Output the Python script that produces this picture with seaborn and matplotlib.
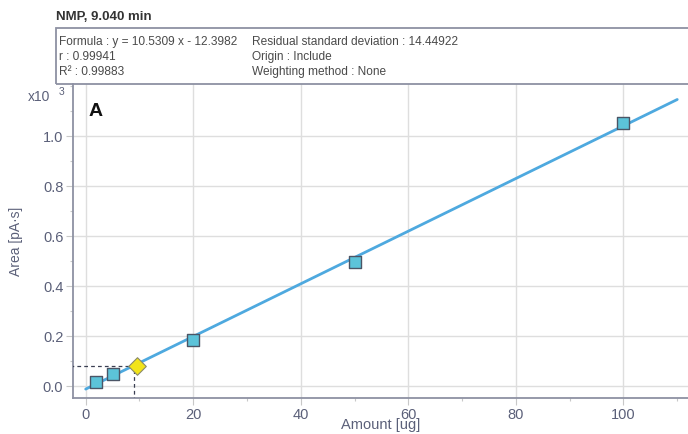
import matplotlib
matplotlib.use("Agg")
import matplotlib.pyplot as plt
from matplotlib.patches import Rectangle
from matplotlib.ticker import MultipleLocator
import seaborn as sns
import pandas as pd

# ---- data (y in units of x10^3) ----
std_amount = [2, 5, 20, 50, 100]
std_area = [0.017, 0.050, 0.183, 0.497, 1.054]
unk_amount = [9.6]
unk_area = [0.0815]
unk_proj_x = 8.9
line_x = [0, 110]
line_y = [-0.0124, 1.146]

title = "NMP, 9.040 min"
info_left = ["Formula : y = 10.5309 x - 12.3982", "r : 0.99941", "R\u00b2 : 0.99883"]
info_right = ["Residual standard deviation : 14.44922", "Origin : Include", "Weighting method : None"]
x_ticks = [0, 20, 40, 60, 80, 100]
y_ticks = [0.0, 0.2, 0.4, 0.6, 0.8, 1.0]

sns.set_style("white")
plt.rcParams["font.family"] = ["Liberation Sans", "DejaVu Sans"]

W, H = 688, 434
fig = plt.figure(figsize=(W / 100, H / 100), dpi=100)
ax = fig.add_axes([73 / W, 1 - 398 / H, (W - 73) / W, (398 - 84) / H])

tick_col = "#5b6079"
spine_col = "#8d91a3"
grid_col = "#dedede"

df_line = pd.DataFrame({"x": line_x, "y": line_y})
df_std = pd.DataFrame({"x": std_amount, "y": std_area})
df_unk = pd.DataFrame({"x": unk_amount, "y": unk_area})

ax.plot([-3, unk_proj_x], [unk_area[0]] * 2, ls=(0, (3, 2.5)), color="#3a3f52", lw=0.9, zorder=3)
ax.plot([unk_proj_x, unk_proj_x], [-0.06, unk_area[0]], ls=(0, (3, 2.5)), color="#3a3f52", lw=0.9, zorder=3)

sns.lineplot(data=df_line, x="x", y="y", ax=ax, color="#4ea9df", lw=2.0, zorder=4)
sns.scatterplot(data=df_std, x="x", y="y", ax=ax, marker="s", s=70, color="#5cc3d9",
                edgecolor="#4b5566", linewidth=1.0, zorder=5)
sns.scatterplot(data=df_unk, x="x", y="y", ax=ax, marker="D", s=80, color="#f2e41a",
                edgecolor="#8a8a6a", linewidth=0.8, zorder=5)

ax.set_xlim(-2.36, 112.0)
ax.set_ylim(-0.048, 1.208)
ax.set_xticks(x_ticks)
ax.set_yticks(y_ticks)
ax.set_yticklabels([f"{v:.1f}" for v in y_ticks])
ax.xaxis.set_minor_locator(MultipleLocator(10))
ax.yaxis.set_minor_locator(MultipleLocator(0.1))
ax.grid(True, which="major", color=grid_col, lw=1.0)
ax.set_axisbelow(True)
ax.tick_params(axis="both", which="major", direction="out", length=5, width=0.8,
               color="#c8c8c8", labelcolor=tick_col, labelsize=10.5, pad=2, left=True, bottom=True)
ax.tick_params(axis="both", which="minor", direction="out", length=2.5, width=0.8,
               color="#c8c8c8", left=True, bottom=True)
for s in ["top", "right"]:
    ax.spines[s].set_visible(False)
for s in ["left", "bottom"]:
    ax.spines[s].set_color(spine_col)
    ax.spines[s].set_linewidth(1.3)

ax.set_xlabel("Amount [ug]", color=tick_col, fontsize=10.5)
ax.xaxis.set_label_coords(0.5, -(425 - 398) / (398 - 84), transform=ax.transAxes)
ax.xaxis.label.set_va("center")
ax.set_ylabel("Area [pA\u00b7s]", color=tick_col, fontsize=10)
ax.yaxis.set_label_coords(-(73 - 16) / (W - 73), 0.5, transform=ax.transAxes)
ax.yaxis.label.set_va("center")

ax.text((96 - 73) / (W - 73), 1 - (112 - 84) / (398 - 84), "A", transform=ax.transAxes,
        fontsize=14, fontweight="bold", color="#111111", va="center", ha="center")

# header
fig.text(56 / W, 1 - 17 / H, title, fontsize=9.5, fontweight="bold", color="#333333",
         va="center", ha="left")
fig.add_artist(Rectangle((56 / W, 1 - 84 / H), (W - 56) / W + 0.01, (84 - 28) / H,
                         transform=fig.transFigure, fill=False, edgecolor=spine_col, lw=1.3))
rows_y = [42, 57, 72]
for yy_px, l, r in zip(rows_y, info_left, info_right):
    yy = 1 - yy_px / H
    fig.text(59 / W, yy, l, fontsize=8.6, color="#4a4a4a", va="center", ha="left")
    fig.text(252 / W, yy, r, fontsize=8.6, color="#4a4a4a", va="center", ha="left")
fig.text(28 / W, 1 - 97 / H, "x10", fontsize=10, color=tick_col, va="center", ha="left")
fig.text(62 / W, 1 - 92 / H, "3", fontsize=7.5, color=tick_col, va="center", ha="center")

fig.savefig("out.png", dpi=100)
